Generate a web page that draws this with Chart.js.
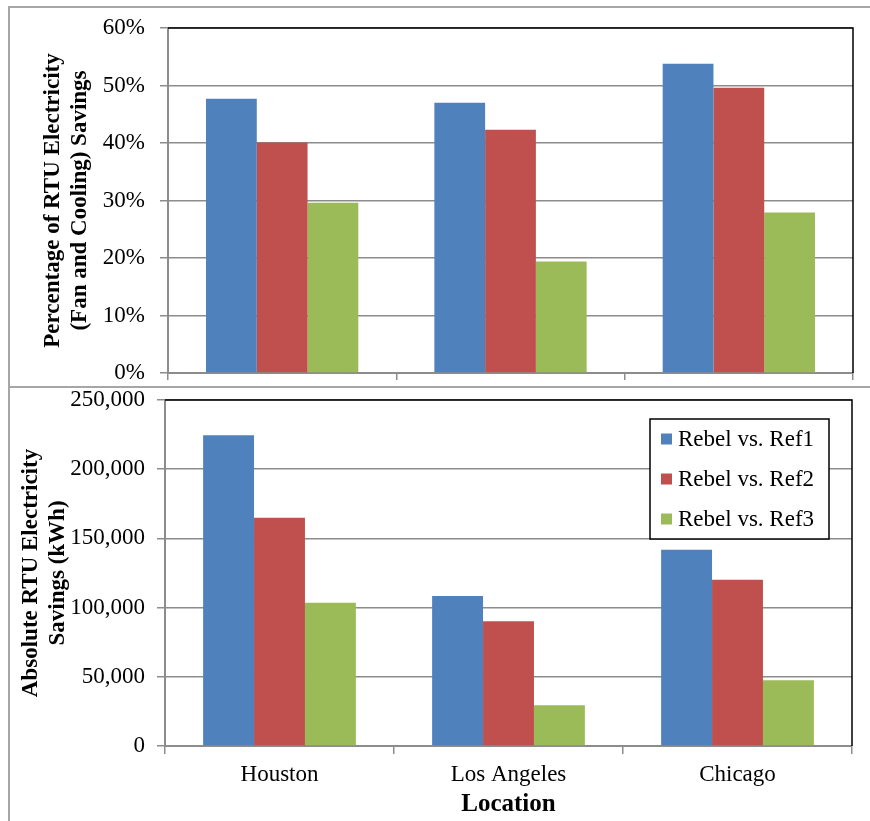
<!DOCTYPE html>
<html>
<head>
<meta charset="utf-8">
<script src="https://cdn.jsdelivr.net/npm/chart.js@4.4.1/dist/chart.umd.min.js"></script>
<style>
  html, body { margin: 0; padding: 0; background: #fff; width: 870px; height: 821px; overflow: hidden; }
  #frame { position: absolute; left: 8px; top: 6px; width: 900px; height: 900px;
           border-left: 2px solid #a6a6a6; border-top: 2px solid #a6a6a6; }
  #divider { position: absolute; left: 8px; top: 386px; width: 900px; height: 2px; background: #a6a6a6; }
  #topBox { position: absolute; left: 0; top: 0; width: 870px; height: 386px; }
  #bottomBox { position: absolute; left: 0; top: 388px; width: 870px; height: 433px; }
</style>
</head>
<body>
<div id="frame"></div>
<div id="divider"></div>
<div id="topBox"><canvas id="pctChart"></canvas></div>
<div id="bottomBox"><canvas id="kwhChart"></canvas></div>
<script>
// Locations and series
const locations = ['Houston', 'Los Angeles', 'Chicago'];
const seriesNames = ['Rebel vs. Ref1', 'Rebel vs. Ref2', 'Rebel vs. Ref3'];
const seriesColors = ['#4F81BD', '#C0504D', '#9BBB59'];

// Percentage of RTU electricity (fan and cooling) savings, %
const pctRef1 = [47.7, 47.0, 53.8];
const pctRef2 = [40.1, 42.3, 49.6];
const pctRef3 = [29.6, 19.4, 27.9];

// Absolute RTU electricity savings, kWh
const kwhRef1 = [224500, 108400, 141800];
const kwhRef2 = [165000, 90100, 120200];
const kwhRef3 = [103500, 29400, 47500];

// Axis tick values
const pctTicks = [0, 10, 20, 30, 40, 50, 60];
const kwhTicks = [0, 50000, 100000, 150000, 200000, 250000];

const SERIF = "'Liberation Serif', 'Times New Roman', serif";
const GRID = '#8c8c8c';
const AXIS = '#8c8c8c';
const TEXT_SIZE = 23;

function makeDatasets(values) {
  return values.map((v, i) => ({
    label: seriesNames[i],
    data: v,
    backgroundColor: seriesColors[i],
    borderWidth: 0,
    categoryPercentage: 0.667,
    barPercentage: 1.0
  }));
}

// Black outline on the top and right edges of the plot area
const plotFrame = {
  id: 'plotFrame',
  afterDraw(chart) {
    const { ctx, chartArea: a } = chart;
    ctx.save();
    ctx.strokeStyle = '#000';
    ctx.lineWidth = 1.5;
    ctx.beginPath();
    ctx.moveTo(a.left, a.top);
    ctx.lineTo(a.right, a.top);
    ctx.lineTo(a.right, a.bottom);
    ctx.stroke();
    ctx.restore();
  }
};

// Legend drawn inside the plot area with a black box
const boxedLegend = {
  id: 'boxedLegend',
  afterDraw(chart, args, o) {
    if (!o || !o.show) return;
    const { ctx, chartArea: a } = chart;
    const x = a.right - o.right - o.width;
    const y = a.top + o.top;
    ctx.save();
    ctx.fillStyle = '#fff';
    ctx.fillRect(x, y, o.width, o.height);
    ctx.strokeStyle = '#000';
    ctx.lineWidth = 1.5;
    ctx.strokeRect(x, y, o.width, o.height);
    ctx.font = TEXT_SIZE + 'px ' + SERIF;
    ctx.textBaseline = 'middle';
    ctx.textAlign = 'left';
    chart.data.datasets.forEach((ds, i) => {
      const cy = y + o.firstRow + i * o.rowGap;
      ctx.fillStyle = ds.backgroundColor;
      ctx.fillRect(x + o.swatchX, cy - o.swatch / 2, o.swatch, o.swatch);
      ctx.fillStyle = '#000';
      ctx.fillText(ds.label, x + o.textX, cy + 1);
    });
    ctx.restore();
  }
};

// Fixed axis sizes so the plot areas sit where the layout wants them
function fixVertical(width) {
  return s => { s.width = width; s.paddingTop = 0; s.paddingBottom = 0; };
}
function fixHorizontal(height) {
  return s => { s.height = height; s.paddingLeft = 0; s.paddingRight = 0; };
}

function yScale(ticksArr, fmt, title, titlePad, width, tickPad) {
  return {
    min: ticksArr[0],
    max: ticksArr[ticksArr.length - 1],
    afterBuildTicks: s => { s.ticks = ticksArr.map(v => ({ value: v })); },
    afterFit: fixVertical(width),
    grid: { color: GRID, lineWidth: 1.5, drawTicks: true, tickLength: 8, tickColor: GRID },
    border: { display: true, color: AXIS, width: 2 },
    ticks: {
      color: '#000',
      padding: tickPad,
      font: { family: SERIF, size: TEXT_SIZE },
      callback: fmt
    },
    title: {
      display: true,
      text: title,
      color: '#000',
      font: { family: SERIF, size: 23, weight: 'bold', lineHeight: 1.15 },
      padding: { top: titlePad, bottom: 0 }
    }
  };
}

Chart.defaults.font.family = SERIF;

new Chart(document.getElementById('pctChart'), {
  type: 'bar',
  data: {
    labels: locations,
    datasets: makeDatasets([pctRef1, pctRef2, pctRef3])
  },
  options: {
    responsive: true,
    maintainAspectRatio: false,
    animation: false,
    layout: { padding: { top: 28, right: 17, left: 0, bottom: 0 } },
    plugins: { legend: { display: false }, tooltip: { enabled: false }, boxedLegend: { show: false } },
    scales: {
      x: {
        afterFit: fixHorizontal(13),
        grid: { drawOnChartArea: false, drawTicks: true, tickLength: 7, color: AXIS, lineWidth: 1.5 },
        border: { display: true, color: AXIS, width: 2 },
        ticks: { display: false }
      },
      y: yScale(pctTicks, v => v + '%',
        ['Percentage of RTU Electricity', '(Fan and Cooling) Savings'], 40, 168, 15)
    }
  },
  plugins: [plotFrame, boxedLegend]
});

new Chart(document.getElementById('kwhChart'), {
  type: 'bar',
  data: {
    labels: locations,
    datasets: makeDatasets([kwhRef1, kwhRef2, kwhRef3])
  },
  options: {
    responsive: true,
    maintainAspectRatio: false,
    animation: false,
    layout: { padding: { top: 12, right: 18, left: 0, bottom: 0 } },
    plugins: {
      legend: { display: false },
      tooltip: { enabled: false },
      boxedLegend: { show: true, right: 23, top: 19, width: 179, height: 120,
                     firstRow: 20, rowGap: 40, swatch: 11, swatchX: 11, textX: 28 }
    },
    scales: {
      x: {
        afterFit: fixHorizontal(75),
        grid: { drawOnChartArea: false, drawTicks: true, tickLength: 8, color: AXIS, lineWidth: 1.5 },
        border: { display: true, color: AXIS, width: 2 },
        ticks: { color: '#000', padding: 7, font: { family: SERIF, size: TEXT_SIZE } },
        title: {
          display: true,
          text: 'Location',
          color: '#000',
          font: { family: SERIF, size: 25, weight: 'bold', lineHeight: 1.2 },
          padding: { top: 0, bottom: 1 }
        }
      },
      y: yScale(kwhTicks, v => v.toLocaleString('en-US'),
        ['Absolute RTU Electricity', 'Savings (kWh)'], 18, 165, 12)
    }
  },
  plugins: [plotFrame, boxedLegend]
});
</script>
</body>
</html>
